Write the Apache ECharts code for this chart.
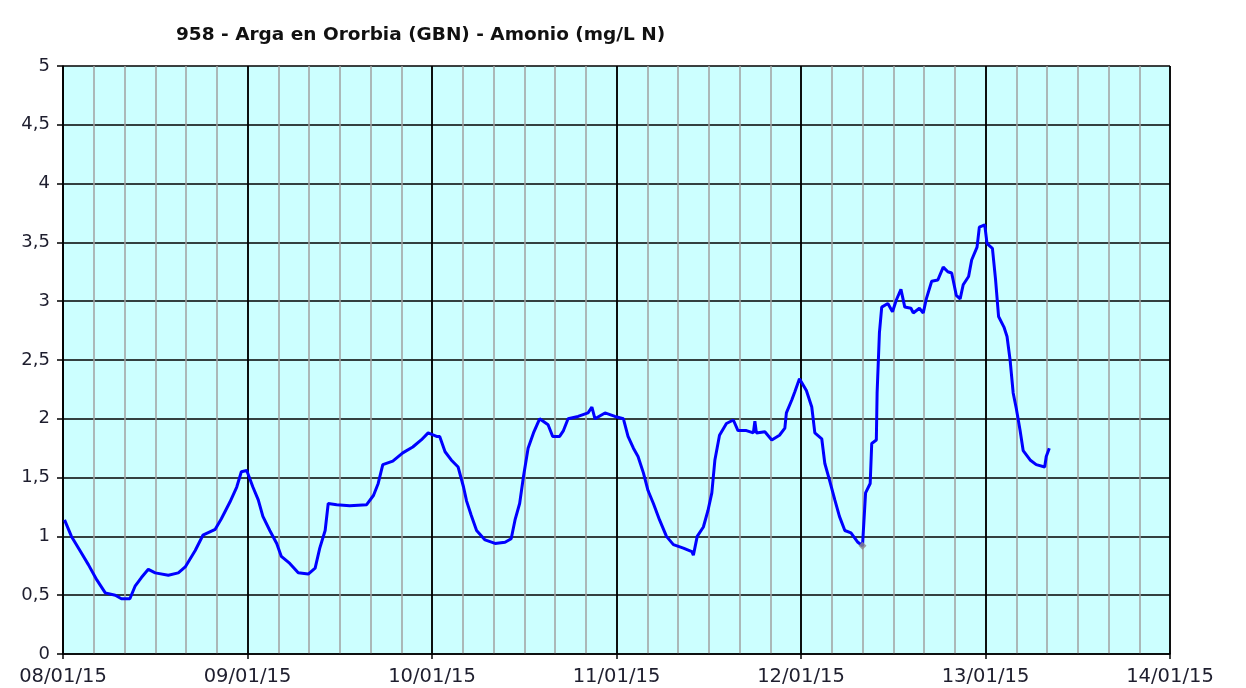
<!DOCTYPE html>
<html>
<head>
<meta charset="utf-8">
<title>Amonio</title>
<script src="https://cdn.jsdelivr.net/npm/echarts@6/dist/echarts.min.js"></script>
<style>
    html, body { margin: 0; padding: 0; background: #ffffff; }
    #main { width: 1246px; height: 688px; }
</style>
</head>
<body>
<div id="main"></div>
<script>
// horas desde 08/01/15 00:00
var horas = [0.2, 1.1, 2.2, 3.3, 4.4, 5.5, 6.8, 7.6, 8.7, 9.4, 10.2, 11.1, 12.0, 13.7, 15.0, 15.9, 17.2, 18.2, 19.8, 20.6,
    21.7, 22.6, 23.2, 23.9, 24.7, 25.4, 26.0, 26.9, 27.8, 28.4, 29.5, 30.6, 31.9, 32.8, 33.4, 34.1, 34.5, 35.6, 37.3, 39.5,
    40.4, 41.0, 41.6, 42.9, 44.2, 45.5, 46.6, 47.5, 48.6, 49.0, 49.7, 50.5, 51.4, 52.1, 52.5, 53.1, 53.8, 54.9, 56.2, 57.5,
    58.3, 58.8, 59.4, 59.9, 60.5, 61.2, 62.0, 63.1, 63.7, 64.6, 65.1, 65.7, 67.0, 68.3, 68.8, 69.2, 70.5, 71.8, 72.9, 73.5,
    74.2, 74.8, 75.5, 76.1, 76.8, 77.6, 78.5, 79.4, 80.7, 81.8, 82.0, 82.5, 83.3, 83.9, 84.4, 84.8, 85.4, 86.3, 87.2, 87.8,
    88.9, 89.8, 90.0, 90.2, 91.3, 92.2, 93.2, 93.9, 94.1, 94.8, 95.2, 95.8, 96.7, 97.4, 97.8, 98.7, 99.1, 99.7, 100.4, 101.0,
    101.7, 102.5, 103.4, 104.0, 104.4, 105.0, 105.2, 105.8, 105.9, 106.2, 106.5, 107.3, 107.9, 108.4, 109.0, 109.5, 110.3, 110.6, 111.4, 111.9,
    112.3, 113.0, 113.8, 114.5, 115.1, 115.6, 116.2, 116.7, 117.1, 117.8, 118.2, 118.9, 119.2, 119.9, 120.2, 120.9, 121.3, 121.7, 122.4, 122.8,
    123.2, 123.6, 124.0, 124.5, 124.9, 125.8, 126.6, 127.7, 127.9, 128.3];

var amonio = [1.14, 1.00, 0.88, 0.76, 0.63, 0.52, 0.50, 0.47, 0.47, 0.58, 0.65, 0.72, 0.69, 0.67, 0.69, 0.74, 0.88, 1.01, 1.06, 1.15,
    1.29, 1.42, 1.55, 1.56, 1.42, 1.31, 1.17, 1.05, 0.94, 0.83, 0.77, 0.69, 0.68, 0.73, 0.90, 1.05, 1.28, 1.27, 1.26, 1.27,
    1.35, 1.45, 1.61, 1.64, 1.71, 1.76, 1.82, 1.88, 1.85, 1.85, 1.72, 1.65, 1.59, 1.42, 1.30, 1.18, 1.05, 0.97, 0.94, 0.95,
    0.98, 1.14, 1.28, 1.51, 1.75, 1.88, 2.00, 1.95, 1.85, 1.85, 1.90, 2.00, 2.02, 2.05, 2.10, 2.00, 2.05, 2.02, 2.00, 1.85,
    1.75, 1.68, 1.54, 1.39, 1.28, 1.14, 1.00, 0.93, 0.90, 0.87, 0.84, 1.00, 1.08, 1.22, 1.37, 1.65, 1.86, 1.96, 1.99, 1.90,
    1.90, 1.88, 1.98, 1.88, 1.89, 1.82, 1.86, 1.92, 2.05, 2.16, 2.23, 2.34, 2.24, 2.10, 1.88, 1.83, 1.62, 1.48, 1.31, 1.17,
    1.05, 1.03, 0.95, 0.92, 1.37, 1.45, 1.79, 1.82, 2.22, 2.73, 2.95, 2.98, 2.91, 3.01, 3.10, 2.95, 2.94, 2.90, 2.94, 2.90,
    3.02, 3.17, 3.18, 3.29, 3.25, 3.24, 3.05, 3.02, 3.14, 3.21, 3.35, 3.46, 3.63, 3.65, 3.49, 3.45, 3.19, 2.87, 2.78, 2.70,
    2.50, 2.22, 2.09, 1.90, 1.73, 1.65, 1.61, 1.59, 1.68, 1.75];

// punto marcado en gris
var indiceGris = 123;

var fechas = ['08/01/15', '09/01/15', '10/01/15', '11/01/15', '12/01/15', '13/01/15', '14/01/15'];

var fuente = 'DejaVu Sans';

var serie = [];
for (var i = 0; i < horas.length; i++) {
    serie.push([horas[i], amonio[i]]);
}

// lineas verticales: negra cada dia, gris cada 4 horas
var coloresX = ['#000000', '#a0a0a0', '#a0a0a0', '#a0a0a0', '#a0a0a0', '#a0a0a0'];

var myChart = echarts.init(document.getElementById('main'));

var option = {
    backgroundColor: '#ffffff',
    animation: false,
    title: {
        text: '958 - Arga en Ororbia (GBN) - Amonio (mg/L N)',
        left: 171,
        top: 21,
        textStyle: { fontFamily: fuente, fontWeight: 'bold', fontSize: 18.5, color: '#111111' }
    },
    grid: {
        left: 63, right: 76, top: 66, bottom: 34,
        show: true,
        backgroundColor: '#ccffff',
        borderWidth: 0
    },
    xAxis: [{
        type: 'value',
        min: 0, max: 144, interval: 4,
        axisLine: { show: false },
        axisTick: { show: false },
        axisLabel: { show: false },
        splitLine: { show: true, lineStyle: { color: coloresX, width: 1.5 } }
    }, {
        type: 'value',
        position: 'bottom',
        min: 0, max: 144, interval: 24,
        axisLine: { show: true, onZero: false, lineStyle: { color: '#000000', width: 1.5 } },
        axisTick: { show: true, length: 5, lineStyle: { color: '#000000', width: 1.5 } },
        axisLabel: {
            margin: 13,
            fontFamily: fuente, fontSize: 19.5, color: '#1e1e2e',
            formatter: function (v) { return fechas[Math.round(v / 24)]; }
        },
        splitLine: { show: true, lineStyle: { color: '#000000', width: 1.5 } }
    }],
    yAxis: {
        type: 'value',
        min: 0, max: 5, interval: 0.5,
        axisLine: { show: true, lineStyle: { color: '#000000', width: 1.5 } },
        axisTick: { show: true, length: 6, lineStyle: { color: '#000000', width: 1.5 } },
        axisLabel: {
            margin: 13,
            fontFamily: fuente, fontSize: 18, color: '#1e1e2e',
            formatter: function (v) { return String(v).replace('.', ','); }
        },
        splitLine: { show: true, lineStyle: { color: '#000000', width: 1.5 } }
    },
    series: [{
        type: 'line',
        xAxisIndex: 0,
        data: serie,
        symbol: 'none',
        lineStyle: { color: '#0000ff', width: 3 },
        z: 3
    }, {
        type: 'scatter',
        xAxisIndex: 0,
        data: [[horas[indiceGris], amonio[indiceGris]]],
        symbol: 'diamond',
        symbolSize: 8,
        itemStyle: { color: '#888888' },
        z: 4
    }]
};

myChart.setOption(option);
</script>
</body>
</html>
